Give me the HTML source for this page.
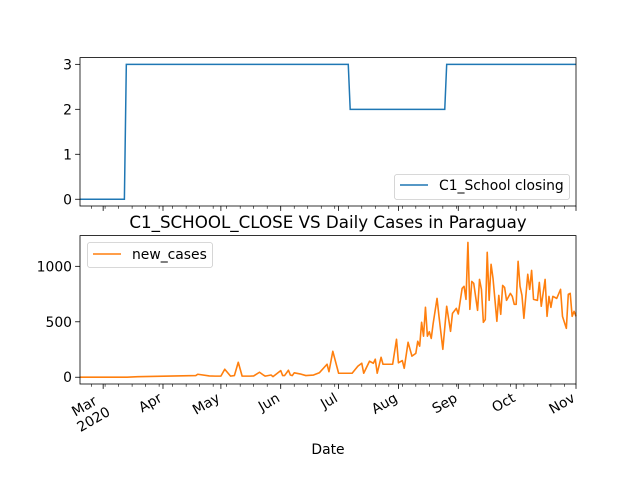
<!DOCTYPE html>
<html><head><meta charset="utf-8"><style>
body{margin:0;background:#fff}
svg{display:block;font-family:"DejaVu Sans","Liberation Sans",sans-serif}
</style></head><body>
<svg id="fig" width="640" height="480" viewBox="0 0 640 480"></svg>
<script>
// data
const schoolDays = [0, 23, 24, 139, 140, 189, 190, 257];
const schoolVals = [0, 0, 3, 3, 2, 2, 3, 3];
const caseDays = [0,24,30,40,50,60,61,67,70,73,75,78,80,82,84,88,90,93,95,96,99,100,104,105,106,108,109,110,111,114,117,121,124,128,129,131,134,141,144,146,147,150,152,153,154,156,157,162,164,165,167,168,170,172,174,175,176,177,178,179,180,181,182,183,185,186,188,190,192,193,195,196,198,199,200,201,202,203,204,206,207,208,209,210,211,212,213,214,216,217,218,219,220,221,223,224,225,226,227,228,229,230,232,233,234,235,237,238,239,241,242,243,244,245,247,249,250,252,253,254,255,256,257];
const caseVals = [0,0,5,8,12,15,27,12,10,10,72,10,15,135,10,10,12,45,20,10,20,5,60,15,15,63,20,15,40,30,15,20,40,117,50,234,36,36,100,126,36,144,126,162,36,180,117,117,342,130,150,81,315,190,215,324,280,495,370,630,370,410,350,486,711,550,252,640,414,576,621,570,801,820,702,1216,612,864,847,603,882,792,495,520,1126,693,1018,892,504,738,567,828,810,693,756,729,657,657,1045,820,738,531,928,792,963,702,693,855,640,882,549,729,630,729,711,792,549,441,747,756,549,594,549];
const monthLabels = ["Mar","Apr","May","Jun","Jul","Aug","Sep","Oct","Nov"];
const monthDays = [12,43,73,104,134,165,196,226,257];
const topTicks = [0,1,2,3];
const botTicks = [0,500,1000];

const NS="http://www.w3.org/2000/svg";
const svg=document.getElementById('fig');
function mk(tag,attrs,parent){const e=document.createElementNS(NS,tag);for(const k in attrs)e.setAttribute(k,attrs[k]);(parent||svg).appendChild(e);return e;}
const X0=80,X1=576,D0=0,D1=257;
const xs=d=>X0+(d-D0)/(D1-D0)*(X1-X0);
const topY=v=>206-(v+0.15)/3.3*148.4;
const botY=v=>384-(v+61)/(1277+61)*148.4;

function axes(name){
  const g=mk('g',{});
  
  
  return g;
}
function frame(g,yTop,yBot){
  const r=mk('rect',{x:X0,y:yTop,width:X1-X0,height:yBot-yTop,fill:'none',stroke:'#000','stroke-width':0.8},g);
  
  
}
function xticks(g,yBot){
  for(let d=6;d<=D1;d+=7){
    const t=mk('line',{x1:xs(d),x2:xs(d),y1:yBot,y2:yBot+2.8,stroke:'#000','stroke-width':0.6},g);
    
    
  }
  monthDays.forEach(d=>{
    const t=mk('line',{x1:xs(d),x2:xs(d),y1:yBot,y2:yBot+4.9,stroke:'#000','stroke-width':0.8},g);
    
    
  });
}
function yticks(g,ticks,fy,name){
  ticks.forEach(v=>{
    const y=fy(v);
    const t=mk('line',{x1:X0-4.9,x2:X0,y1:y,y2:y,stroke:'#000','stroke-width':0.8},g);
    
    
    const l=mk('text',{x:X0-8,y:y+5,'text-anchor':'end','font-size':13.9,fill:'#000'},g);
    l.textContent=String(v);
    
    
  });
}
// top axes
const gTop=axes('school-closing-axes');
xticks(gTop,206);
yticks(gTop,topTicks,topY,'top-y-tick-label');
let pts=schoolDays.map((d,i)=>xs(d).toFixed(2)+','+topY(schoolVals[i]).toFixed(2)).join(' ');
const l1=mk('polyline',{points:pts,fill:'none',stroke:'#1f77b4','stroke-width':1.5},gTop);


frame(gTop,57.6,206);
const lg1=mk('g',{},gTop);


mk('rect',{x:394.5,y:174.5,width:175,height:25,rx:2.5,fill:'#fff','fill-opacity':0.8,stroke:'#ccc','stroke-width':0.8},lg1);
mk('line',{x1:400,x2:428,y1:185,y2:185,stroke:'#1f77b4','stroke-width':1.5},lg1);
const lt1=mk('text',{x:439,y:190,'font-size':13.9,fill:'#000'},lg1);lt1.textContent='C1_School closing';

// title
const title=mk('text',{x:328,y:228,'text-anchor':'middle','font-size':16.7,fill:'#000'});
title.textContent='C1_SCHOOL_CLOSE VS Daily Cases in Paraguay';



// bottom axes
const gBot=axes('daily-cases-axes');
xticks(gBot,384);
yticks(gBot,botTicks,botY,'bottom-y-tick-label');
pts=caseDays.map((d,i)=>xs(d).toFixed(2)+','+botY(caseVals[i]).toFixed(2)).join(' ');
const l2=mk('polyline',{points:pts,fill:'none',stroke:'#ff7f0e','stroke-width':1.6,'stroke-linejoin':'round'},gBot);


frame(gBot,235.6,384);
const lg2=mk('g',{},gBot);


mk('rect',{x:87.5,y:242.5,width:125,height:25,rx:2.5,fill:'#fff','fill-opacity':0.8,stroke:'#ccc','stroke-width':0.8},lg2);
mk('line',{x1:93,x2:121,y1:254,y2:254,stroke:'#ff7f0e','stroke-width':1.5},lg2);
const lt2=mk('text',{x:132,y:259,'font-size':13.9,fill:'#000'},lg2);lt2.textContent='new_cases';

// x labels rotated
monthLabels.forEach((m,i)=>{
  const x=xs(monthDays[i]);
  const t=mk('text',{transform:`translate(${x-5},${392}) rotate(-30)`,'text-anchor':'end','font-size':13.9,fill:'#000'});
  
  
  if(i===0){
    const s1=mk('tspan',{x:-6,y:10},t);s1.textContent=m;
    const s2=mk('tspan',{x:0,y:26},t);s2.textContent='2020';
  } else {
    const s1=mk('tspan',{x:0,y:10},t);s1.textContent=m;
  }
});
const xt=mk('text',{x:328,y:454,'text-anchor':'middle','font-size':13.9,fill:'#000'});
xt.textContent='Date';


</script>
</body></html>
